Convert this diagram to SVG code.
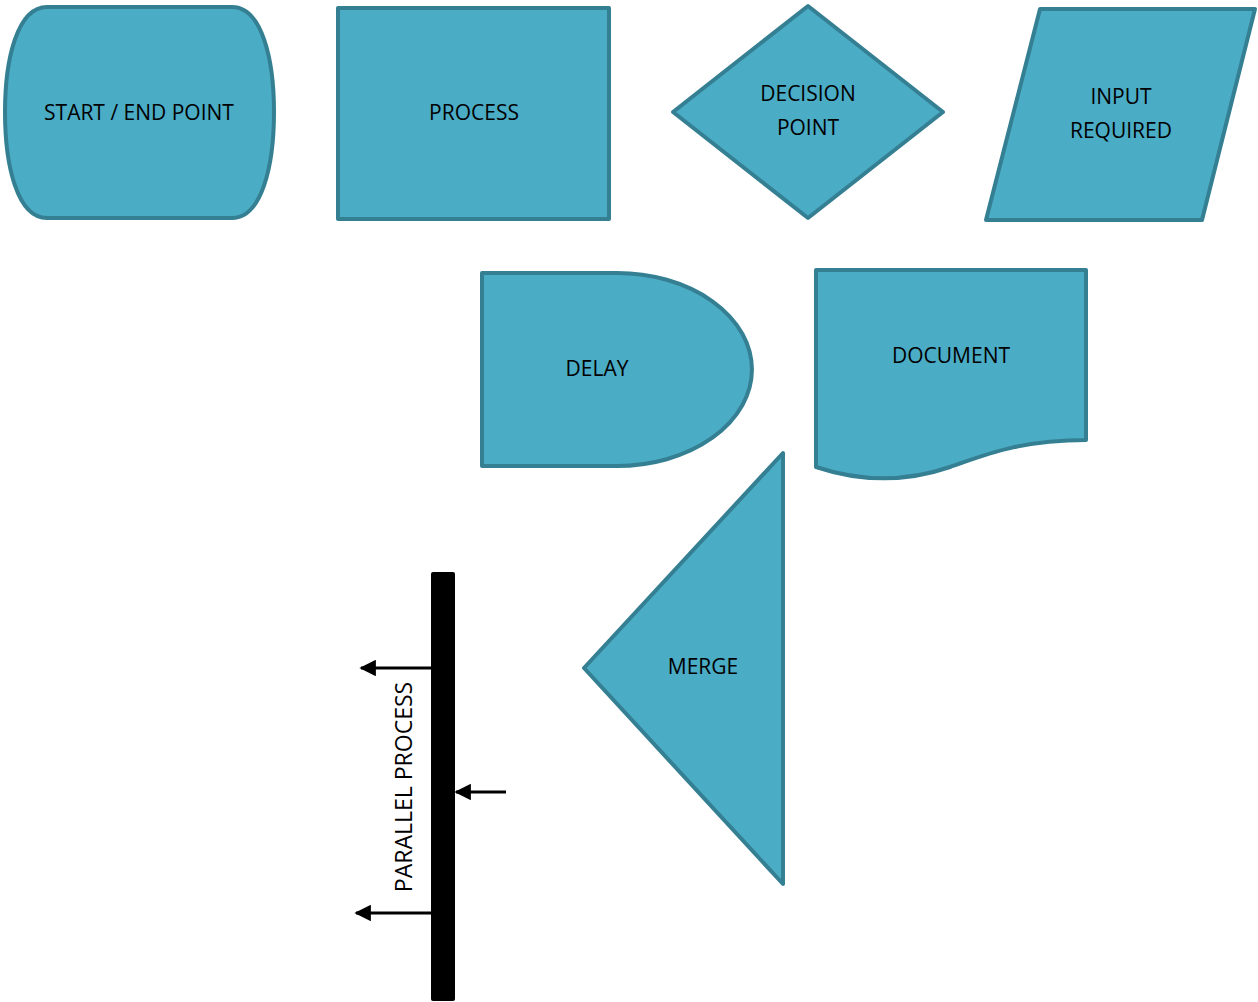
<svg xmlns="http://www.w3.org/2000/svg" width="1258" height="1002" viewBox="0 0 1258 1002">
<style>
.shape{fill:#4BACC6;stroke:#357F93;stroke-width:4;stroke-linejoin:round}
.lbl{font-family:"Open Sans","Liberation Sans",sans-serif;font-size:21px;fill:#000;text-anchor:middle;dominant-baseline:central}
.conn{stroke:#000;stroke-width:3;fill:none}
</style>
<defs>
<marker id="ah" viewBox="0 0 10 10" refX="9" refY="5" markerWidth="5.5" markerHeight="5.5" orient="auto" markerUnits="strokeWidth">
<path d="M0,0 L10,5 L0,10 Z" fill="#000"/>
</marker>
</defs>
<rect width="1258" height="1002" fill="#fff"/>
<g id="start-end">
<path class="shape" d="M47,7 H232 C262,7 274,60 274,112 C274,165 262,218 232,218 H47 C17,218 5,165 5,112 C5,60 17,7 47,7 Z"/>
<text class="lbl" x="139" y="112">START / END POINT</text>
</g>
<g id="process">
<rect class="shape" x="338" y="8" width="271" height="211"/>
<text class="lbl" x="474" y="112">PROCESS</text>
</g>
<g id="decision">
<path class="shape" d="M808,6 L943,112 L808,218 L673,112 Z"/>
<text class="lbl" x="808" y="93">DECISION</text>
<text class="lbl" x="808" y="127">POINT</text>
</g>
<g id="input">
<path class="shape" d="M1040,9 L1255,9 L1202,220 L986,220 Z"/>
<text class="lbl" x="1121" y="96">INPUT</text>
<text class="lbl" x="1121" y="130">REQUIRED</text>
</g>
<g id="delay">
<path class="shape" d="M482,273 H617 A135,96.5 0 0 1 617,466 H482 Z"/>
<text class="lbl" x="597" y="368">DELAY</text>
</g>
<g id="document">
<path class="shape" d="M816,270 H1086 V440 C1020,440 985,455 950,467 C915,479 870,485 816,467 Z"/>
<text class="lbl" x="951" y="355">DOCUMENT</text>
</g>
<g id="merge">
<path class="shape" d="M783,453 L783,884 L584,668 Z"/>
<text class="lbl" x="703" y="666">MERGE</text>
</g>
<g id="parallel">
<rect x="431" y="572" width="24" height="429" rx="2" fill="#000"/>
<text class="lbl" style="font-size:23px" transform="translate(403,787) rotate(-90)">PARALLEL PROCESS</text>
</g>
<g id="connectors">
<line class="conn" x1="431" y1="668" x2="361" y2="668" marker-end="url(#ah)"/>
<line class="conn" x1="431" y1="913" x2="356" y2="913" marker-end="url(#ah)"/>
<line class="conn" x1="506" y1="792" x2="456" y2="792" marker-end="url(#ah)"/>
</g>
</svg>
